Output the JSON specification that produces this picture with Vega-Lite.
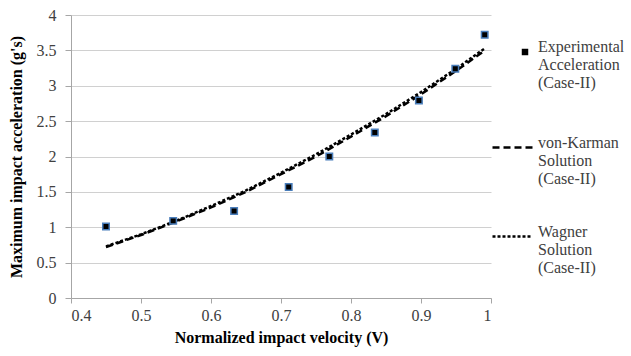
{
  "$schema": "https://vega.github.io/schema/vega-lite/v6.json",
  "width": 420,
  "height": 283,
  "autosize": "none",
  "padding": {"left": 71, "top": 15, "right": 140, "bottom": 58},
  "background": "white",
  "config": {
    "view": {"stroke": null},
    "axis": {
      "labelFont": "serif",
      "labelFontWeight": "normal",
      "labelFontSize": 16,
      "labelColor": "#404040",
      "labelOverlap": false,
      "titleFont": "Liberation Serif",
      "titleFontSize": 16,
      "titleFontWeight": "bold",
      "titleColor": "black",
      "domainColor": "#a6a6a6",
      "tickColor": "#a6a6a6",
      "gridColor": "#d0d0d0",
      "gridWidth": 1
    },
    "legend": {
      "labelFont": "serif",
      "labelFontWeight": "normal",
      "labelFontSize": 16,
      "labelColor": "#404040"
    }
  },
  "datasets": {
    "exp": [
      {"v": 0.45, "acc": 1.01, "kind": "Experimental Acceleration (Case-II)"},
      {"v": 0.546, "acc": 1.09, "kind": "Experimental Acceleration (Case-II)"},
      {"v": 0.633, "acc": 1.23, "kind": "Experimental Acceleration (Case-II)"},
      {"v": 0.711, "acc": 1.57, "kind": "Experimental Acceleration (Case-II)"},
      {"v": 0.769, "acc": 2.0, "kind": "Experimental Acceleration (Case-II)"},
      {"v": 0.834, "acc": 2.34, "kind": "Experimental Acceleration (Case-II)"},
      {"v": 0.897, "acc": 2.79, "kind": "Experimental Acceleration (Case-II)"},
      {"v": 0.949, "acc": 3.24, "kind": "Experimental Acceleration (Case-II)"},
      {"v": 0.991, "acc": 3.72, "kind": "Experimental Acceleration (Case-II)"}
    ],
    "theory": [
      {"v": 0.45, "acc": 0.72, "series": "von-Karman Solution (Case-II)"},
      {"v": 0.5, "acc": 0.89, "series": "von-Karman Solution (Case-II)"},
      {"v": 0.55, "acc": 1.08, "series": "von-Karman Solution (Case-II)"},
      {"v": 0.6, "acc": 1.28, "series": "von-Karman Solution (Case-II)"},
      {"v": 0.65, "acc": 1.5, "series": "von-Karman Solution (Case-II)"},
      {"v": 0.7, "acc": 1.75, "series": "von-Karman Solution (Case-II)"},
      {"v": 0.75, "acc": 2.0, "series": "von-Karman Solution (Case-II)"},
      {"v": 0.8, "acc": 2.28, "series": "von-Karman Solution (Case-II)"},
      {"v": 0.85, "acc": 2.57, "series": "von-Karman Solution (Case-II)"},
      {"v": 0.9, "acc": 2.88, "series": "von-Karman Solution (Case-II)"},
      {"v": 0.95, "acc": 3.21, "series": "von-Karman Solution (Case-II)"},
      {"v": 0.99, "acc": 3.49, "series": "von-Karman Solution (Case-II)"},
      {"v": 0.45, "acc": 0.73, "series": "Wagner Solution (Case-II)"},
      {"v": 0.5, "acc": 0.9, "series": "Wagner Solution (Case-II)"},
      {"v": 0.55, "acc": 1.09, "series": "Wagner Solution (Case-II)"},
      {"v": 0.6, "acc": 1.3, "series": "Wagner Solution (Case-II)"},
      {"v": 0.65, "acc": 1.52, "series": "Wagner Solution (Case-II)"},
      {"v": 0.7, "acc": 1.77, "series": "Wagner Solution (Case-II)"},
      {"v": 0.75, "acc": 2.03, "series": "Wagner Solution (Case-II)"},
      {"v": 0.8, "acc": 2.31, "series": "Wagner Solution (Case-II)"},
      {"v": 0.85, "acc": 2.6, "series": "Wagner Solution (Case-II)"},
      {"v": 0.9, "acc": 2.91, "series": "Wagner Solution (Case-II)"},
      {"v": 0.95, "acc": 3.24, "series": "Wagner Solution (Case-II)"},
      {"v": 0.99, "acc": 3.52, "series": "Wagner Solution (Case-II)"}
    ]
  },
  "encoding": {
    "x": {
      "field": "v", "type": "quantitative",
      "scale": {"domain": [0.4, 1], "nice": false, "zero": false},
      "axis": {"values": [0.4, 0.5, 0.6, 0.7, 0.8, 0.9, 1], "format": "~g", "labelFont": "serif", "labelFontWeight": "normal", "labelFontSize": 16, "grid": false, "tickSize": 5, "labelPadding": 4, "title": "Normalized impact velocity (V)", "titlePadding": 6}
    },
    "y": {
      "field": "acc", "type": "quantitative",
      "scale": {"domain": [0, 4], "nice": false},
      "axis": {"values": [0, 0.5, 1, 1.5, 2, 2.5, 3, 3.5, 4], "format": "~g", "labelFont": "serif", "labelFontWeight": "normal", "labelFontSize": 16, "grid": true, "tickSize": 6, "labelPadding": 9, "title": "Maximum impact acceleration (g's)", "titlePadding": 12}
    }
  },
  "layer": [
    {
      "data": {"name": "theory"},
      "mark": {"type": "line", "color": "black", "strokeWidth": 2.5},
      "encoding": {
        "strokeDash": {
          "field": "series", "type": "nominal",
          "scale": {"domain": ["von-Karman Solution (Case-II)", "Wagner Solution (Case-II)"], "range": [[7, 4], [3, 2]]},
          "legend": {
            "title": null, "orient": "none", "legendX": 420, "legendY": 111,
            "labelExpr": "split(datum.label, ' ')",
            "labelFont": "serif", "labelFontWeight": "normal", "labelFontSize": 16, "labelColor": "#404040",
            "labelBaseline": "alphabetic",
            "symbolType": "stroke", "symbolSize": 1600, "symbolStrokeWidth": 2.5, "symbolStrokeColor": "black",
            "labelOffset": 4, "rowPadding": 28, "padding": 0
          }
        }
      }
    },
    {
      "data": {"name": "exp"},
      "mark": {"type": "point", "filled": true, "size": 42, "fill": "black", "fillOpacity": 1, "stroke": "#4a7ebb", "strokeWidth": 1.5, "opacity": 1},
      "encoding": {
        "shape": {
          "field": "kind", "type": "nominal",
          "scale": {"range": ["square"]},
          "legend": {
            "title": null, "orient": "none", "legendX": 420, "legendY": 29,
            "labelExpr": "split(datum.label, ' ')",
            "labelFont": "serif", "labelFontWeight": "normal", "labelFontSize": 16, "labelColor": "#404040",
            "labelBaseline": "alphabetic",
            "symbolSize": 42, "symbolFillColor": "black", "symbolStrokeColor": "#4a7ebb", "symbolStrokeWidth": 1,
            "symbolOffset": 26, "labelOffset": 5, "padding": 0
          }
        }
      }
    }
  ]
}
